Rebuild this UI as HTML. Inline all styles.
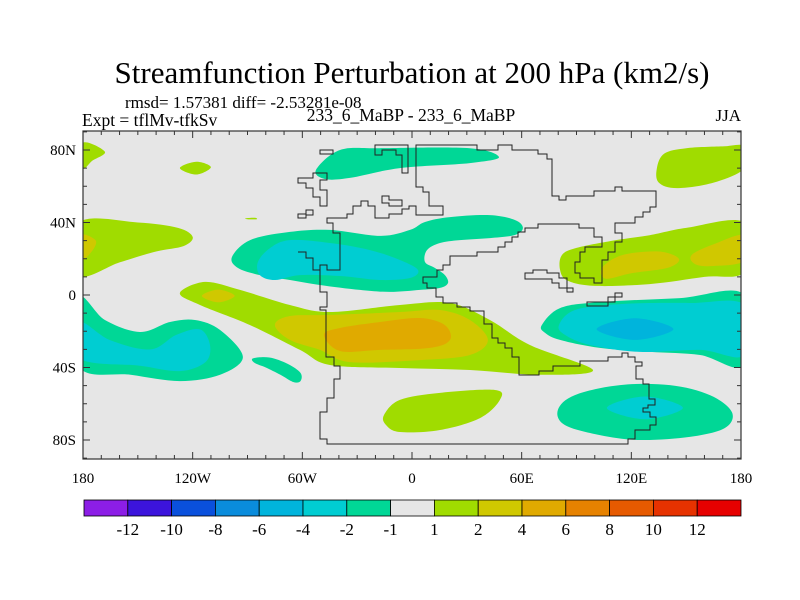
<!DOCTYPE html>
<html><head><meta charset="utf-8"><style>
body{margin:0;background:#fff;}
svg{display:block;font-family:"Liberation Serif",serif;}
</style></head><body>
<svg id="chart" width="800" height="600" viewBox="0 0 800 600">
<text x="412" y="83" font-size="31" text-anchor="middle">Streamfunction Perturbation at 200 hPa (km2/s)</text>
<text x="125" y="108" font-size="17">rmsd= 1.57381 diff= -2.53281e-08</text>
<text x="82" y="126" font-size="17.5">Expt = tflMv-tfkSv</text>
<text x="411" y="121" font-size="17.5" text-anchor="middle">233_6_MaBP - 233_6_MaBP</text>
<text x="741" y="121" font-size="17" text-anchor="end">JJA</text>
<defs><clipPath id="plotclip"><rect x="83" y="131" width="658" height="328"/></clipPath></defs>
<rect x="83" y="131" width="658" height="328" fill="#e6e6e6"/>
<g id="fills" clip-path="url(#plotclip)"></g>
<g id="coast" fill="none" stroke="#222" stroke-width="1" clip-path="url(#plotclip)"></g>
<g id="axes"></g>
<g id="colorbar"></g>
</svg>
<script>
// ---- data: contour polygons in [lon, lat] ----
const levelColors = ["#8c1ee6","#3c14dc","#0a50dc","#0a8cdc","#00b4dc","#00cdd2","#00d796","#e6e6e6","#a0dc00","#d0c800","#e0aa00","#e68200","#e65a00","#e63200","#e60000"];
const levelLabels = ["-12","-10","-8","-6","-4","-2","-1","1","2","4","6","8","10","12"];
const lonTicks = [-180,-120,-60,0,60,120,180];
const lonTickLabels = ["180","120W","60W","0","60E","120E","180"];
const latTicks = [80,40,0,-40,-80];
const latTickLabels = ["80N","40N","0","40S","80S"];

const polyA = [[-180,84],[-168,79],[-175,74],[-180,70]];
const polyB = [[-127,70],[-118,73.5],[-110,70.5],[-118,66.5]];
const polyC = [[-52.5,69],[-39.4,80],[-17.5,81],[31.7,81],[47.6,76],[31.7,72.8],[-6.6,70],[-34,64.6],[-47.6,64]];
const polyD = [[134,70],[138,78],[150,81],[170,82],[182,82],[182,70],[165,62],[145,59],[135,62]];
const polyE = [[-182,40],[-150,40],[-128,37],[-120,32],[-125,27],[-140,24],[-160,18],[-182,11]];
const polyE2 = [[-182,33],[-173,30],[-176,23],[-182,19]];
const polyF = [[82,22],[90,26],[110,30],[130,33],[150,37],[182,40],[182,13],[160,10],[130,6],[100,5],[85,8],[81,14]];
const polyF2 = [[104,15],[115,22],[135,24],[146,20],[140,15],[120,12],[106,9]];
const polyF3 = [[153,22],[165,28],[182,33],[182,19],[165,16],[155,17]];
const polyG = [[-98.5,21],[-88.6,30.3],[-66.8,34.8],[-44.9,35.9],[-17.5,32.6],[-1.1,35.9],[7.1,40.3],[20.8,43],[42.6,44.1],[56.3,41.4],[60.7,37],[56.3,33.1],[42.6,31.4],[26.2,30.3],[15.3,28.7],[8.2,24.8],[7.1,18.2],[12.6,14.9],[18,11],[19.7,6.6],[15.3,3.9],[4.4,2.8],[-12,1.7],[-28.5,2.8],[-50.4,5.5],[-66.8,8.3],[-83.2,11],[-95.2,14.9]];
const polyG2 = [[-84.3,18.2],[-77.7,25.9],[-66.8,30.3],[-44.9,28.7],[-23,24.8],[-6.6,19.3],[3.3,13.8],[-1.1,9.4],[-17.5,8.3],[-39.4,10.5],[-61.3,11],[-75,8.3],[-83.2,11]];
const polyH = [[-182,-1.7],[-168,-13.8],[-148.8,-20.4],[-132.4,-14.9],[-118.7,-13.8],[-105,-19.3],[-92.5,-34.2],[-105,-44],[-127,-47.5],[-154,-44],[-182,-39.7]];
const polyH2 = [[-182,-15],[-165,-25],[-143,-30],[-129,-22],[-116,-19],[-110.5,-27.6],[-113,-37],[-127,-42],[-149,-39],[-182,-35]];
const polyI = [[-87,-35],[-78,-34.5],[-68,-38],[-61,-43],[-61,-47.5],[-65,-48],[-72,-44],[-80,-40],[-86,-37.5]];
const polyJ = [[-127,1.1],[-113.3,7.2],[-94.1,2.8],[-66.8,-5.5],[-44.9,-9.4],[-6.6,-5.5],[20.8,-4.4],[42.6,-13.8],[64.5,-27.6],[99,-41.4],[70,-44],[31.7,-41.4],[-6.6,-40.3],[-44.9,-38.6],[-61.3,-30.3],[-88.6,-16.6],[-116,-5.5]];
const polyJ2 = [[-75,-16.6],[-66.8,-11.6],[-44.9,-11],[-6.6,-9.4],[15.3,-8.3],[31.7,-13.8],[41.5,-24.8],[31.7,-33.1],[4.3,-35.9],[-34,-37],[-50.4,-30.3],[-66.8,-24.8]];
const polyJ3 = [[-115,-0.5],[-106,3],[-97,-0.5],[-106,-4]];
const polyJ4 = [[-48.2,-22],[-39.4,-18.2],[-17.5,-14.9],[4.3,-12.7],[18,-16.6],[20.8,-24.8],[9.8,-29.2],[-17.5,-30.3],[-39.4,-30.9]];
const polyK = [[-15.3,-66.2],[-6.6,-57.9],[15.3,-54],[45.4,-52.4],[48.1,-57.9],[37.2,-67.9],[15.3,-74.5],[-6.6,-75.6],[-14.2,-71.7]];
const polyL = [[71,-16.6],[81,-7.2],[102.8,-3.9],[146.6,-1.7],[182,0],[182,-38.6],[157.6,-33.1],[130.2,-31.4],[102.8,-29.2],[81,-24.8],[72.8,-20.9]];
const polyL2 = [[80.4,-16.6],[89.2,-8.3],[113.8,-5],[152.1,-4.4],[182,-5.5],[182,-33.1],[157.6,-30.3],[124.7,-31.4],[97.3,-27.6],[83.7,-22]];
const polyL3 = [[101,-18.8],[122,-12.8],[143,-18.8],[122,-24.8]];
const polyM = [[79.8,-63.4],[89.1,-55.2],[113.8,-49.7],[141.1,-49.7],[163,-55.2],[175,-64.6],[171.2,-73.4],[152,-78.3],[124.7,-80],[102.8,-77.3],[83.6,-71.7]];
const polyM2 = [[106.6,-62.3],[127.4,-56],[148.2,-62.3],[127.4,-68.6]];
const polyN = [[-91,42.3],[-86,42.6],[-85,41.8],[-90,41.8]];

const contourLayers = [
 {p:polyA,c:8,n:"contour-pos-arctic-west"},{p:polyB,c:8,n:"contour-pos-north-pacific"},
 {p:polyC,c:6,n:"contour-neg-arctic"},{p:polyD,c:8,n:"contour-pos-arctic-east"},
 {p:polyE,c:8,n:"contour-pos-pacific-30n"},{p:polyE2,c:9,n:"contour-pos2-pacific-30n"},
 {p:polyF,c:8,n:"contour-pos-asia-20n"},{p:polyF2,c:9,n:"contour-pos2-asia-a"},{p:polyF3,c:9,n:"contour-pos2-asia-b"},
 {p:polyG,c:6,n:"contour-neg-atlantic-20n"},{p:polyG2,c:5,n:"contour-neg2-atlantic-20n"},
 {p:polyH,c:6,n:"contour-neg-pacific-20s"},{p:polyH2,c:5,n:"contour-neg2-pacific-20s"},
 {p:polyI,c:6,n:"contour-neg-small-40s"},
 {p:polyJ,c:8,n:"contour-pos-band-20s"},{p:polyJ2,c:9,n:"contour-pos2-band-20s"},{p:polyJ3,c:9,n:"contour-pos2-pacific-eq"},{p:polyJ4,c:10,n:"contour-pos4-africa"},
 {p:polyK,c:8,n:"contour-pos-60s"},
 {p:polyL,c:6,n:"contour-neg-indian-20s"},{p:polyL2,c:5,n:"contour-neg2-indian-20s"},{p:polyL3,c:4,n:"contour-neg4-indian-20s"},
 {p:polyM,c:6,n:"contour-neg-60s-east"},{p:polyM2,c:5,n:"contour-neg2-60s-east"},
 {p:polyN,c:8,n:"contour-pos-dash-40n"}
];

const NS="http://www.w3.org/2000/svg";
const X0=83,X1=741,Y0=131,Y1=459;
function xScale(lon){return X0+(lon+180)*(X1-X0)/360;}
function yScale(lat){return 295-lat*1.8125;}
function smoothPath(pts){
  const P=pts.map(d=>[xScale(d[0]),yScale(d[1])]);const n=P.length;let s="M"+P[0][0].toFixed(1)+","+P[0][1].toFixed(1);
  for(let i=0;i<n;i++){const p0=P[(i-1+n)%n],p1=P[i],p2=P[(i+1)%n],p3=P[(i+2)%n];
    const c1=[p1[0]+(p2[0]-p0[0])/6,p1[1]+(p2[1]-p0[1])/6],c2=[p2[0]-(p3[0]-p1[0])/6,p2[1]-(p3[1]-p1[1])/6];
    s+="C"+c1[0].toFixed(1)+","+c1[1].toFixed(1)+" "+c2[0].toFixed(1)+","+c2[1].toFixed(1)+" "+p2[0].toFixed(1)+","+p2[1].toFixed(1);}
  return s+"Z";}
const fills=document.getElementById("fills");
contourLayers.forEach(L=>{const el=document.createElementNS(NS,"path");el.setAttribute("d",smoothPath(L.p));el.setAttribute("fill",levelColors[L.c]);


fills.appendChild(el);});

// coastlines (pixel geometry of land outline)
const coastMain=[[416,145],[477,145],[477,150],[498,150],[498,145],[512,145],[512,150],[538,150],[538,154],[547,154],[547,159],[552,159],[552,196],[559,196],[559,200],[566,200],[566,196],[594,196],[594,191],[615,191],[615,187],[622,187],[622,191],[656,191],[656,207],[650,207],[650,212],[643,212],[643,217],[635,217],[635,223],[615,223],[615,233],[622,233],[622,242],[615,242],[615,252],[608,252],[608,260],[602,260],[602,283],[594,283],[594,278],[580,278],[580,273],[575,273],[575,262],[580,262],[580,252],[585,252],[585,247],[602,247],[602,237],[594,237],[594,228],[579,228],[579,224],[538,224],[538,228],[525,228],[525,232],[518,232],[518,237],[512,237],[512,242],[505,242],[505,247],[498,247],[498,252],[477,252],[477,256],[450,256],[450,265],[443,265],[443,270],[437,270],[437,277],[423,277],[423,283],[427,283],[427,288],[436,288],[436,297],[443,297],[443,303],[457,303],[457,307],[470,307],[470,311],[484,311],[484,324],[492,324],[492,338],[498,338],[498,343],[505,343],[505,348],[512,348],[512,357],[519,357],[519,375],[539,375],[539,371],[553,371],[553,366],[580,366],[580,361],[608,361],[608,357],[622,357],[622,353],[628,353],[628,357],[635,357],[635,362],[642,362],[642,366],[636,366],[636,379],[643,379],[643,384],[649,384],[649,399],[655,399],[655,405],[648,405],[648,408],[643,408],[643,412],[650,412],[650,417],[656,417],[656,425],[650,425],[650,430],[635,430],[635,439],[628,439],[628,444],[327,444],[327,439],[320,439],[320,412],[327,412],[327,398],[334,398],[334,379],[340,379],[340,366],[334,366],[334,357],[326,357],[326,310],[320,310],[320,307],[327,307],[327,292],[320,292],[320,265],[327,265],[327,270],[340,270],[340,233],[333,233],[333,223],[327,223],[327,218],[347,218],[347,214],[353,214],[353,206],[361,206],[361,201],[368,201],[368,206],[375,206],[375,218],[389,218],[389,214],[402,214],[402,209],[409,209],[409,206],[416,206],[416,215],[443,215],[443,206],[429,206],[429,192],[423,192],[423,187],[416,187]];
const coastIslands=[
 [[320,150],[333,150],[333,154],[320,154]],
 [[375,145],[408,145],[408,173],[402,173],[402,155],[396,155],[396,150],[382,150],[382,155],[375,155]],
 [[313,173],[327,173],[327,180],[320,180],[320,190],[327,190],[327,206],[320,206],[320,197],[313,197],[313,188],[306,188],[306,183],[298,183],[298,178],[313,178]],
 [[306,210],[313,210],[313,215],[306,215],[306,218],[298,218],[298,214],[306,214]],
 [[382,196],[389,196],[389,200],[402,200],[402,206],[389,206],[389,203],[382,203]],
 [[298,252],[306,252],[306,258],[313,258],[313,270],[320,270],[320,265]],
 [[525,273],[533,273],[533,270],[547,270],[547,273],[559,273],[559,278],[567,278],[567,288],[573,288],[573,292],[567,292],[567,288],[559,288],[559,283],[552,283],[552,279],[525,279]],
 [[587,302],[608,302],[608,297],[615,297],[615,293],[622,293],[622,297],[615,297],[615,302],[608,302],[608,306],[587,306]]
];
const coast=document.getElementById("coast");
function addPoly(pts,closed,name){const el=document.createElementNS(NS,closed?"polygon":"polyline");el.setAttribute("points",pts.map(p=>p.join(",")).join(" "));


coast.appendChild(el);}
addPoly(coastMain,true,"continent-outline");
coastIslands.forEach((p,i)=>addPoly(p,i!==5,"island-outline"));

// axes
const ax=document.getElementById("axes");
function mk(tag,attrs,parent){const e=document.createElementNS(NS,tag);for(const k in attrs)e.setAttribute(k,attrs[k]);parent.appendChild(e);return e;}
const frame=mk("rect",{x:X0,y:Y0,width:X1-X0,height:Y1-Y0,fill:"none",stroke:"#333","stroke-width":1.2},ax);


for(let lon=-180;lon<=180;lon+=10){const x=xScale(lon),L=(lon%60===0)?7:4;
 mk("line",{x1:x,y1:Y1,x2:x,y2:Y1-L,stroke:"#333"},ax);mk("line",{x1:x,y1:Y0,x2:x,y2:Y0+L,stroke:"#333"},ax);}
for(let lat=-90;lat<=90;lat+=10){const y=yScale(lat),L=(lat%40===0)?7:4;
 mk("line",{x1:X0,y1:y,x2:X0+L,y2:y,stroke:"#333"},ax);mk("line",{x1:X1,y1:y,x2:X1-L,y2:y,stroke:"#333"},ax);}
lonTicks.forEach((lon,i)=>{const t=mk("text",{x:xScale(lon),y:483,"font-size":15,"text-anchor":"middle"},ax);t.textContent=lonTickLabels[i];

});
latTicks.forEach((lat,i)=>{const t=mk("text",{x:76,y:yScale(lat)+5,"font-size":15,"text-anchor":"end"},ax);t.textContent=latTickLabels[i];

});

// colorbar
const cb=document.getElementById("colorbar");
const CB0=84,CB1=741,CBy=500,CBh=16,bw=(CB1-CB0)/levelColors.length;
levelColors.forEach((c,i)=>{const r=mk("rect",{x:CB0+i*bw,y:CBy,width:bw,height:CBh,fill:c,stroke:"#000","stroke-width":0.8},cb);

});
levelLabels.forEach((l,i)=>{const t=mk("text",{x:CB0+(i+1)*bw,y:535,"font-size":17,"text-anchor":"middle"},cb);t.textContent=l;

});
</script>
</body></html>
